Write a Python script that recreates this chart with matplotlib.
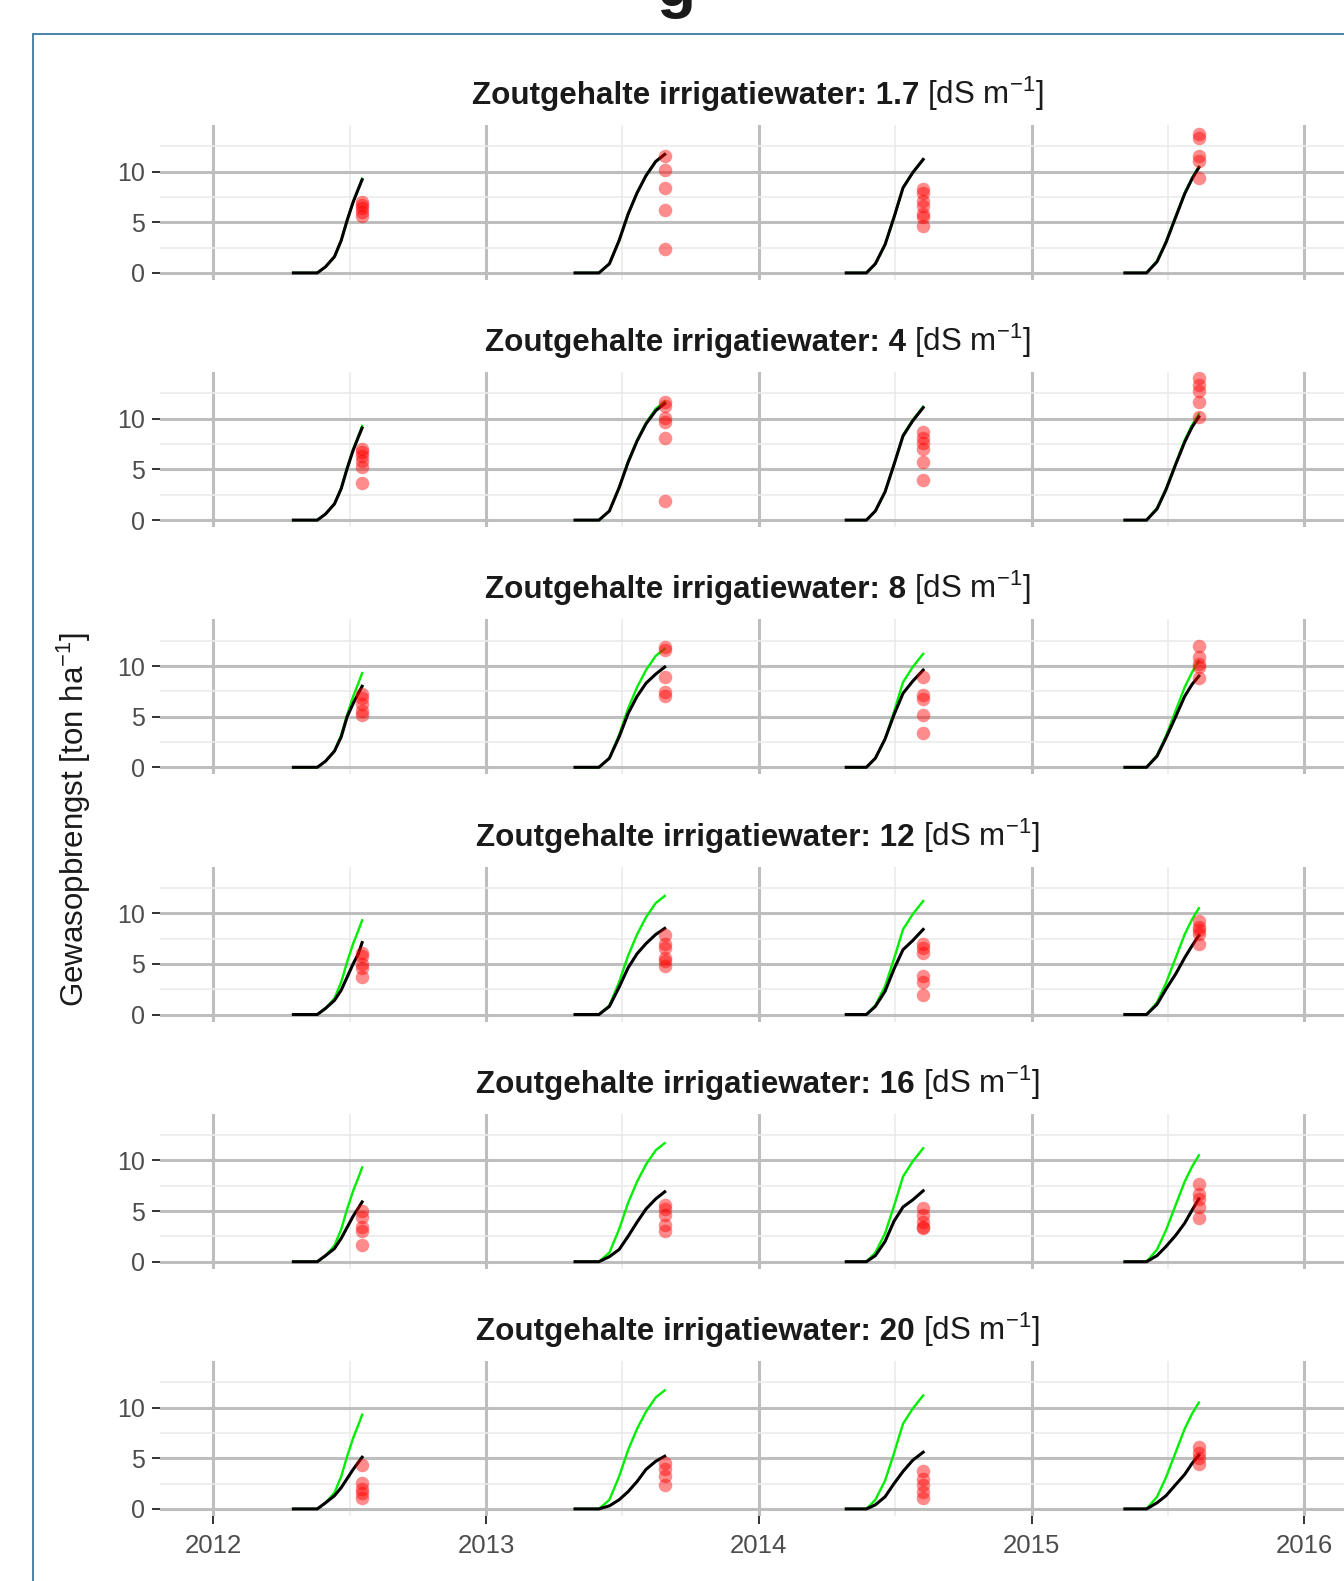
import numpy as np
import matplotlib
matplotlib.use("Agg")
import matplotlib.pyplot as plt
from matplotlib.patches import Rectangle

plt.rcParams["font.family"] = ["Liberation Sans", "DejaVu Sans"]
plt.rcParams["mathtext.fontset"] = "custom"
plt.rcParams["mathtext.rm"] = "Liberation Sans"
plt.rcParams["mathtext.it"] = "Liberation Sans:italic"
plt.rcParams["mathtext.bf"] = "Liberation Sans:bold"

# ── data ─────────────────────────────────────────────────────
SALTS = ["1.7", "4", "8", "12", "16", "20"]
YEARS = [2012, 2013, 2014, 2015]

# day of year of the simulated points, per season
DOY_2012 = [108, 140, 151, 163, 172, 180, 188, 195, 200]
DOY_2013 = [120, 152, 166, 179, 191, 203, 215, 228, 240]
DOY_2014 = [118, 145, 157, 170, 182, 194, 207, 221]
DOY_2015 = [126, 155, 169, 181, 194, 206, 216, 225]

# reference yield (no salt), green
GREEN_2012 = [0, 0, 0.6, 1.6, 3.2, 5.2, 7.0, 8.3, 9.3]
GREEN_2013 = [0, 0, 0.9, 3.2, 5.8, 7.9, 9.6, 11.0, 11.7]
GREEN_2014 = [0, 0, 0.9, 2.8, 5.5, 8.4, 9.9, 11.2]
GREEN_2015 = [0, 0, 1.2, 3.1, 5.6, 7.9, 9.4, 10.5]

# simulated yield per salt level, black
SIM_2012 = [
    [0, 0, 0.6, 1.6, 3.2, 5.2, 7.0, 8.3, 9.2],
    [0, 0, 0.6, 1.6, 3.1, 5.1, 6.9, 8.2, 9.1],
    [0, 0, 0.6, 1.6, 3.0, 5.0, 6.3, 7.3, 8.0],
    [0, 0, 0.6, 1.4, 2.4, 3.7, 5.0, 6.0, 7.1],
    [0, 0, 0.6, 1.3, 2.3, 3.4, 4.5, 5.3, 5.9],
    [0, 0, 0.6, 1.3, 2.1, 3.0, 3.9, 4.6, 5.1],
]
SIM_2013 = [
    [0, 0, 0.9, 3.2, 5.8, 7.9, 9.6, 11.0, 11.7],
    [0, 0, 0.9, 3.2, 5.7, 7.8, 9.5, 10.8, 11.5],
    [0, 0, 0.9, 3.0, 5.3, 7.0, 8.3, 9.2, 9.9],
    [0, 0, 0.8, 2.7, 4.6, 6.0, 7.0, 7.9, 8.5],
    [0, 0, 0.5, 1.2, 2.5, 3.9, 5.2, 6.2, 6.9],
    [0, 0, 0.3, 0.9, 1.7, 2.7, 3.9, 4.7, 5.2],
]
SIM_2014 = [
    [0, 0, 0.9, 2.8, 5.5, 8.4, 9.9, 11.2],
    [0, 0, 0.9, 2.8, 5.5, 8.3, 9.8, 11.1],
    [0, 0, 0.9, 2.8, 5.2, 7.3, 8.5, 9.6],
    [0, 0, 0.8, 2.3, 4.5, 6.4, 7.3, 8.4],
    [0, 0, 0.6, 2.0, 4.0, 5.4, 6.1, 7.0],
    [0, 0, 0.4, 1.2, 2.5, 3.7, 4.8, 5.6],
]
SIM_2015 = [
    [0, 0, 1.1, 3.0, 5.5, 7.8, 9.3, 10.4],
    [0, 0, 1.1, 3.0, 5.5, 7.7, 9.2, 10.2],
    [0, 0, 1.1, 2.9, 5.0, 7.0, 8.2, 9.0],
    [0, 0, 1.0, 2.5, 4.0, 5.6, 6.8, 7.8],
    [0, 0, 0.6, 1.5, 2.6, 3.8, 5.1, 6.2],
    [0, 0, 0.6, 1.3, 2.4, 3.4, 4.5, 5.3],
]

# harvest day and measured yields, red
OBS_DOY = [200, 240, 221, 225]
OBS_2012 = [
    [7.0, 6.7, 6.4, 6.0, 5.6],
    [7.0, 6.7, 6.3, 5.8, 5.2, 3.7],
    [7.2, 6.8, 6.2, 5.6, 5.2],
    [6.1, 5.8, 5.0, 4.6, 3.7],
    [5.0, 4.4, 3.4, 3.0, 1.6],
    [4.3, 2.6, 2.0, 1.6, 1.1],
]
OBS_2013 = [
    [11.5, 10.2, 8.4, 6.2, 2.4],
    [11.7, 11.3, 10.1, 9.7, 8.1, 1.9],
    [11.9, 11.6, 8.9, 7.4, 7.0],
    [7.8, 7.0, 6.6, 5.6, 5.3, 4.8],
    [5.6, 5.2, 4.6, 3.6, 3.0],
    [4.5, 3.9, 3.2, 2.4],
]
OBS_2014 = [
    [8.3, 7.9, 7.1, 6.6, 5.8, 5.5, 4.6],
    [8.7, 8.1, 7.6, 7.0, 5.7, 4.0],
    [8.9, 7.1, 6.7, 5.2, 3.4],
    [7.0, 6.6, 6.1, 3.8, 3.2, 1.9],
    [5.3, 4.6, 3.9, 3.4, 3.3],
    [3.7, 3.0, 2.4, 1.7, 1.1],
]
OBS_2015 = [
    [13.7, 13.3, 11.5, 11.0, 9.4],
    [14.0, 13.3, 12.7, 11.7, 10.2],
    [12.0, 10.9, 10.2, 9.9, 8.8],
    [9.2, 8.6, 8.3, 7.9, 7.0],
    [7.7, 6.7, 6.2, 5.4, 4.3],
    [6.1, 5.5, 5.0, 4.4],
]

SEASONS = [
    (2012, DOY_2012, GREEN_2012, SIM_2012, OBS_2012),
    (2013, DOY_2013, GREEN_2013, SIM_2013, OBS_2013),
    (2014, DOY_2014, GREEN_2014, SIM_2014, OBS_2014),
    (2015, DOY_2015, GREEN_2015, SIM_2015, OBS_2015),
]

# ── layout (pixels) ──────────────────────────────────────────
W, H = 1344, 1581
LEFT, RIGHT = 160, 1356
TOP0, PANEL_H, STEP = 125, 155, 247.2
GRID = "#BEBEBE"
GRID_MINOR = "#EBEBEB"
TXT = "#4D4D4D"

def dec(year, doy):
    return year + (np.asarray(doy, dtype=float) - 1) / 365.0

fig = plt.figure(figsize=(W / 100, H / 100), dpi=100)
renderer = fig.canvas.get_renderer()

def strip_title(ybase, salt, fs=22.6):
    t1 = fig.text(0, 1 - ybase / H, f"Zoutgehalte irrigatiewater: {salt}",
                  fontsize=fs, fontweight="bold", va="baseline", color="#1A1A1A")
    t2 = fig.text(0, 1 - ybase / H, r"[dS m$^{-1}$]",
                  fontsize=fs, va="baseline", color="#1A1A1A")
    w1 = t1.get_window_extent(renderer).width
    w2 = t2.get_window_extent(renderer).width
    gap = 8
    x0 = (LEFT + RIGHT) / 2 - (w1 + gap + w2) / 2
    t1.set_x(x0 / W)
    t2.set_x((x0 + w1 + gap) / W)

for k, salt in enumerate(SALTS):
    top = TOP0 + STEP * k
    ax = fig.add_axes([LEFT / W, 1 - (top + PANEL_H) / H,
                       (RIGHT - LEFT) / W, PANEL_H / H])
    ax.set_axisbelow(True)

    for year, doy, green, sim, obs in SEASONS:
        x = dec(year, doy)
        ax.plot(x, green, color="#00EE00", lw=1.7, zorder=2,
                solid_joinstyle="round")
        ax.plot(x, sim[k], color="black", lw=2.2, zorder=3,
                solid_joinstyle="round")
        xo = dec(year, [OBS_DOY[YEARS.index(year)]] * len(obs[k]))
        ax.scatter(xo, obs[k], s=95, color="red", alpha=0.45, lw=0, zorder=4)

    ax.set_xlim(2011.804, 2016.19)
    ax.set_ylim(-0.7, 14.6)
    ax.set_xticks([2012, 2013, 2014, 2015, 2016])
    ax.set_xticks([2012.5, 2013.5, 2014.5, 2015.5], minor=True)
    ax.set_yticks([0, 5, 10])
    ax.set_yticks([2.5, 7.5, 12.5], minor=True)
    ax.grid(which="major", color=GRID, lw=2.2)
    ax.grid(which="minor", color=GRID_MINOR, lw=1.2)
    ax.tick_params(which="minor", length=0)
    for s in ax.spines.values():
        s.set_visible(False)
    ax.tick_params(axis="y", length=6, width=1.4, color="#333333",
                   labelsize=18, labelcolor=TXT, pad=5)
    if k < len(SALTS) - 1:
        ax.tick_params(axis="x", length=0, labelbottom=False)
    else:
        ax.set_xticklabels(["2012", "2013", "2014", "2015", "2016"])
        ax.tick_params(axis="x", length=6, width=1.4, color="#333333",
                       labelsize=18.5, labelcolor=TXT, pad=7)

    strip_title(top - 21, salt)

fig.text(74 / W, 1 - 820 / H, r"Gewasopbrengst [ton ha$^{-1}$]",
         rotation=90, fontsize=22.5, ha="center", va="center", color="#1A1A1A")

# frame of the surrounding page and the cut-off heading above it
fig.add_artist(Rectangle((33 / W, -0.05), 2, (H - 34) / H + 0.05,
                         transform=fig.transFigure, fill=False,
                         edgecolor="#3D7A9E", lw=1.3))
fig.text(676 / W, 1 - 6 / H, "g", fontsize=46, fontweight="bold",
         ha="center", va="baseline", color="#1A1A1A")

fig.savefig("out.png", dpi=100)
